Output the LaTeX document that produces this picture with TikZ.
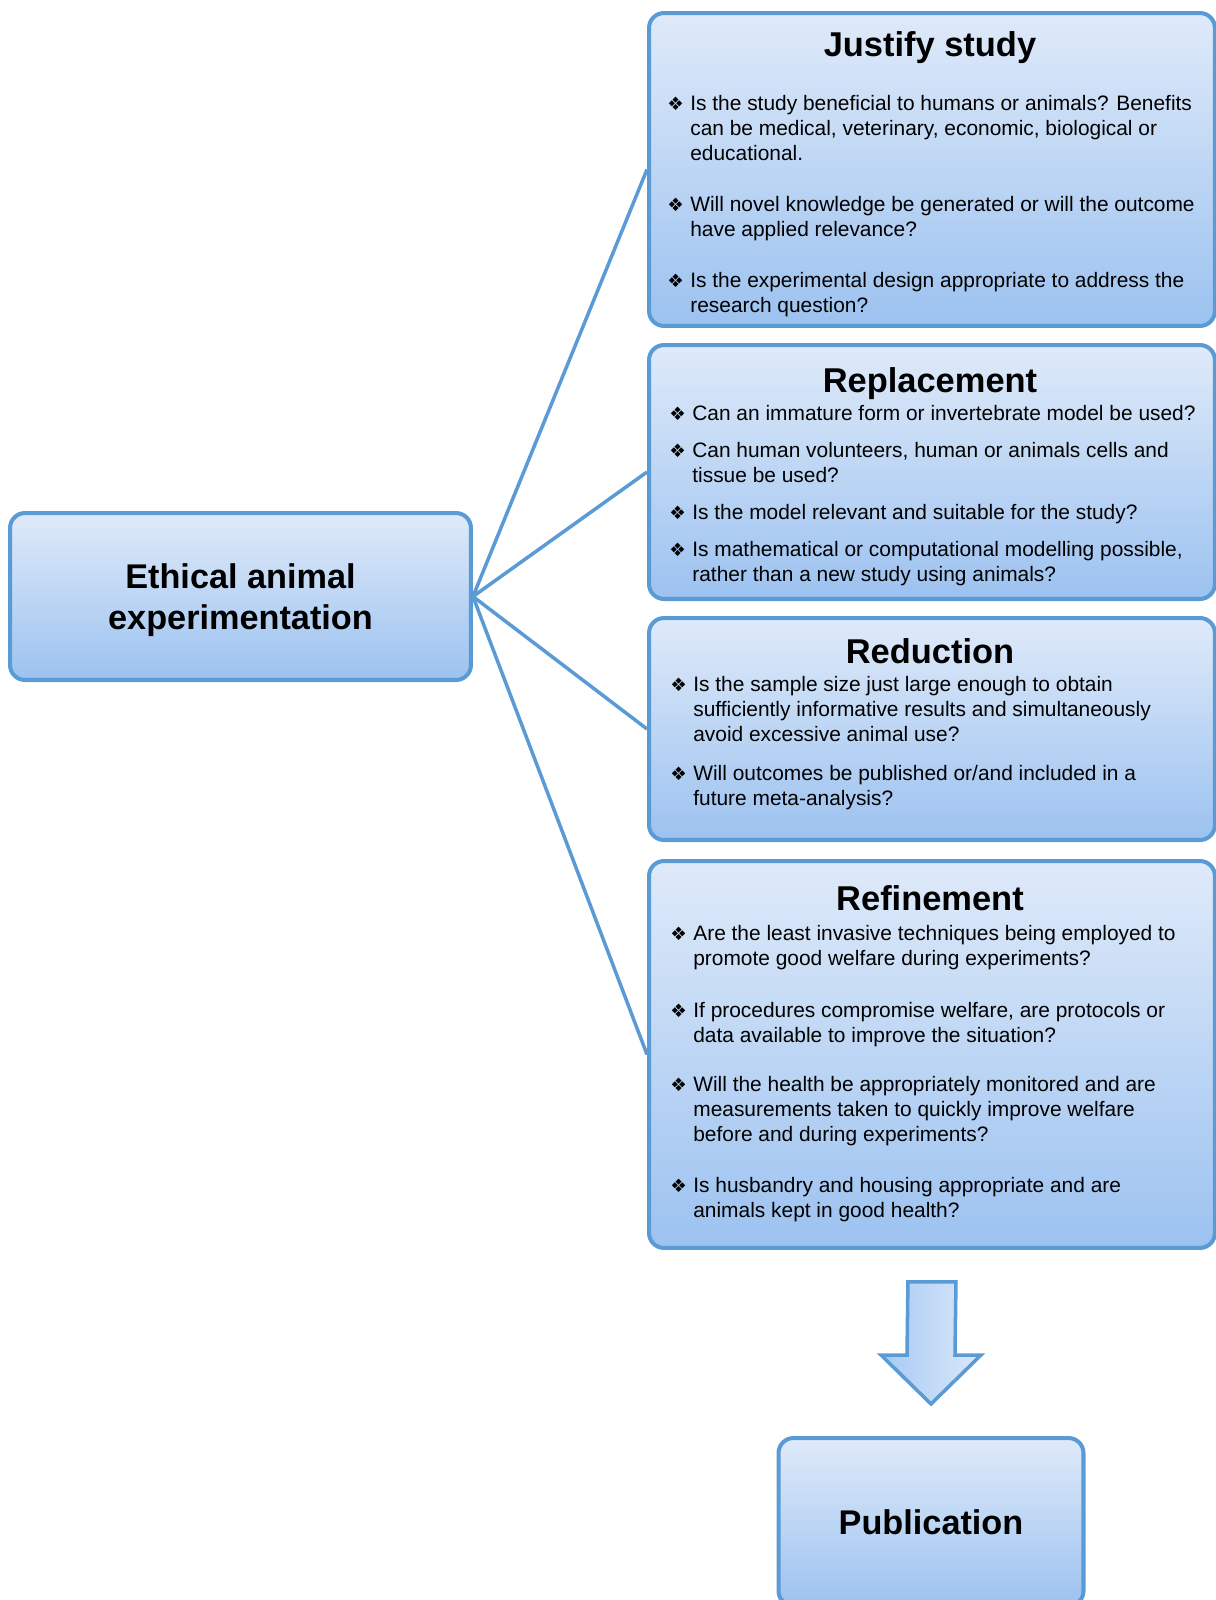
\documentclass[tikz,border=0pt]{standalone}
\usepackage{fontspec}
\setmainfont{Liberation Sans}
\newfontfamily\symfont{DejaVu Sans}
\usetikzlibrary{calc}

\definecolor{boxline}{HTML}{5B9BD5}
\definecolor{boxtop}{HTML}{DFEAF9}
\definecolor{boxbot}{HTML}{9CC2F0}
\definecolor{arrowdark}{HTML}{A6CAF4}
\definecolor{arrowlight}{HTML}{DCE8F9}

\newcommand{\bul}{\makebox[0.46cm][l]{\symfont\fontsize{10.5}{10.5}\selectfont ❖}}
\newcommand{\ques}[1]{\begin{tabular}[t]{@{}l@{}l@{}}\bul & #1\end{tabular}}

\tikzset{
	qbox/.style={draw=boxline, line width=2.3pt, rounded corners=0.3cm,
		top color=boxtop, bottom color=boxbot, anchor=north west,
		minimum width=11.32cm, inner sep=0pt},
	mainbox/.style={draw=boxline, line width=2.3pt, rounded corners=0.3cm,
		top color=boxtop, bottom color=boxbot, align=center,
		font=\fontsize{19.5}{23.25}\selectfont\bfseries},
	head/.style={anchor=base, inner sep=0pt, font=\fontsize{19.6}{23}\selectfont\bfseries},
	qtext/.style={anchor=base west, inner sep=0pt, font=\fontsize{11.9}{14.5}\selectfont},
	link/.style={draw=boxline, line width=2pt},
	blockarrow/.style={draw=boxline, line width=2pt, left color=arrowdark, right color=arrowlight},
}

\begin{document}
\begin{tikzpicture}[x=0.02cm, y=-0.02cm]
			\useasboundingbox (0,0) rectangle (1215,1600);
			\def\bx{647};

			% the four question boxes
			\begin{scope}
				\node[qbox, minimum height=6.26cm] (justify) at (\bx,11) {};
				\node[qbox, minimum height=5.08cm] (replace) at (\bx,343) {};
				\node[qbox, minimum height=4.44cm] (reduce) at (\bx,616) {};
				\node[qbox, minimum height=7.74cm] (refine) at (\bx,859) {};
			\end{scope}

			\node[mainbox, minimum width=9.22cm, minimum height=3.34cm, text depth=0pt] (main) at (240.5,596.5) {Ethical animal\\experimentation};
			\node[mainbox, minimum width=6.1cm, minimum height=3.36cm] (pub) at (931,1522) {Publication};

			\foreach \b in {justify, replace, reduce, refine}
				\draw[link] (main.east) -- (\b.west);

			% titles
			\begin{scope}
				\node[head] (justifyhead) at (930,56) {Justify study};
				\node[head] (replacehead) at (930,392) {Replacement};
				\node[head] (reducehead) at (930,663) {Reduction};
				\node[head] (refinehead) at (930,910) {Refinement};
			\end{scope}

			% questions
			\begin{scope}
				\def\qx{667};
				\node[qtext] (justify1) at (\qx,110) {\ques{Is the study beneficial to humans or animals? Benefits\\ & can be medical, veterinary, economic, biological or\\ & educational.}};
				\node[qtext] (justify2) at (\qx,211) {\ques{Will novel knowledge be generated or will the outcome\\ & have applied relevance?}};
				\node[qtext] (justify3) at (\qx,287) {\ques{Is the experimental design appropriate to address the\\ & research question?}};
			\end{scope}

			\begin{scope}
				\def\qx{669};
				\node[qtext] (replace1) at (\qx,420) {\ques{Can an immature form or invertebrate model be used?}};
				\node[qtext] (replace2) at (\qx,457) {\ques{Can human volunteers, human or animals cells and\\ & tissue be used?}};
				\node[qtext] (replace3) at (\qx,519) {\ques{Is the model relevant and suitable for the study?}};
				\node[qtext] (replace4) at (\qx,556) {\ques{Is mathematical or computational modelling possible,\\ & rather than a new study using animals?}};
			\end{scope}

			\begin{scope}
				\def\qx{670};
				\node[qtext] (reduce1) at (\qx,691) {\ques{Is the sample size just large enough to obtain\\ & sufficiently informative results and simultaneously\\ & avoid excessive animal use?}};
				\node[qtext] (reduce2) at (\qx,780) {\ques{Will outcomes be published or/and included in a\\ & future meta-analysis?}};

				\node[qtext] (refine1) at (\qx,940) {\ques{Are the least invasive techniques being employed to\\ & promote good welfare during experiments?}};
				\node[qtext] (refine2) at (\qx,1017) {\ques{If procedures compromise welfare, are protocols or\\ & data available to improve the situation?}};
				\node[qtext] (refine3) at (\qx,1091) {\ques{Will the health be appropriately monitored and are\\ & measurements taken to quickly improve welfare\\ & before and during experiments?}};
				\node[qtext] (refine4) at (\qx,1192) {\ques{Is husbandry and housing appropriate and are\\ & animals kept in good health?}};
			\end{scope}

			% block arrow down to publication
			\coordinate (arrtop) at ($(refine.south)+(0,32)$);
			\coordinate (arrtip) at ($(pub.north)+(0,-32)$);
			\draw[blockarrow] ($(arrtop)+(-24,0)$) -- ($(arrtop)+(24,0)$) -- ($(arrtip)+(24,-49)$)
				-- ($(arrtip)+(50,-49)$) -- (arrtip) -- ($(arrtip)+(-50,-49)$) -- ($(arrtip)+(-24,-49)$) -- cycle;
		\end{tikzpicture}
\end{document}
